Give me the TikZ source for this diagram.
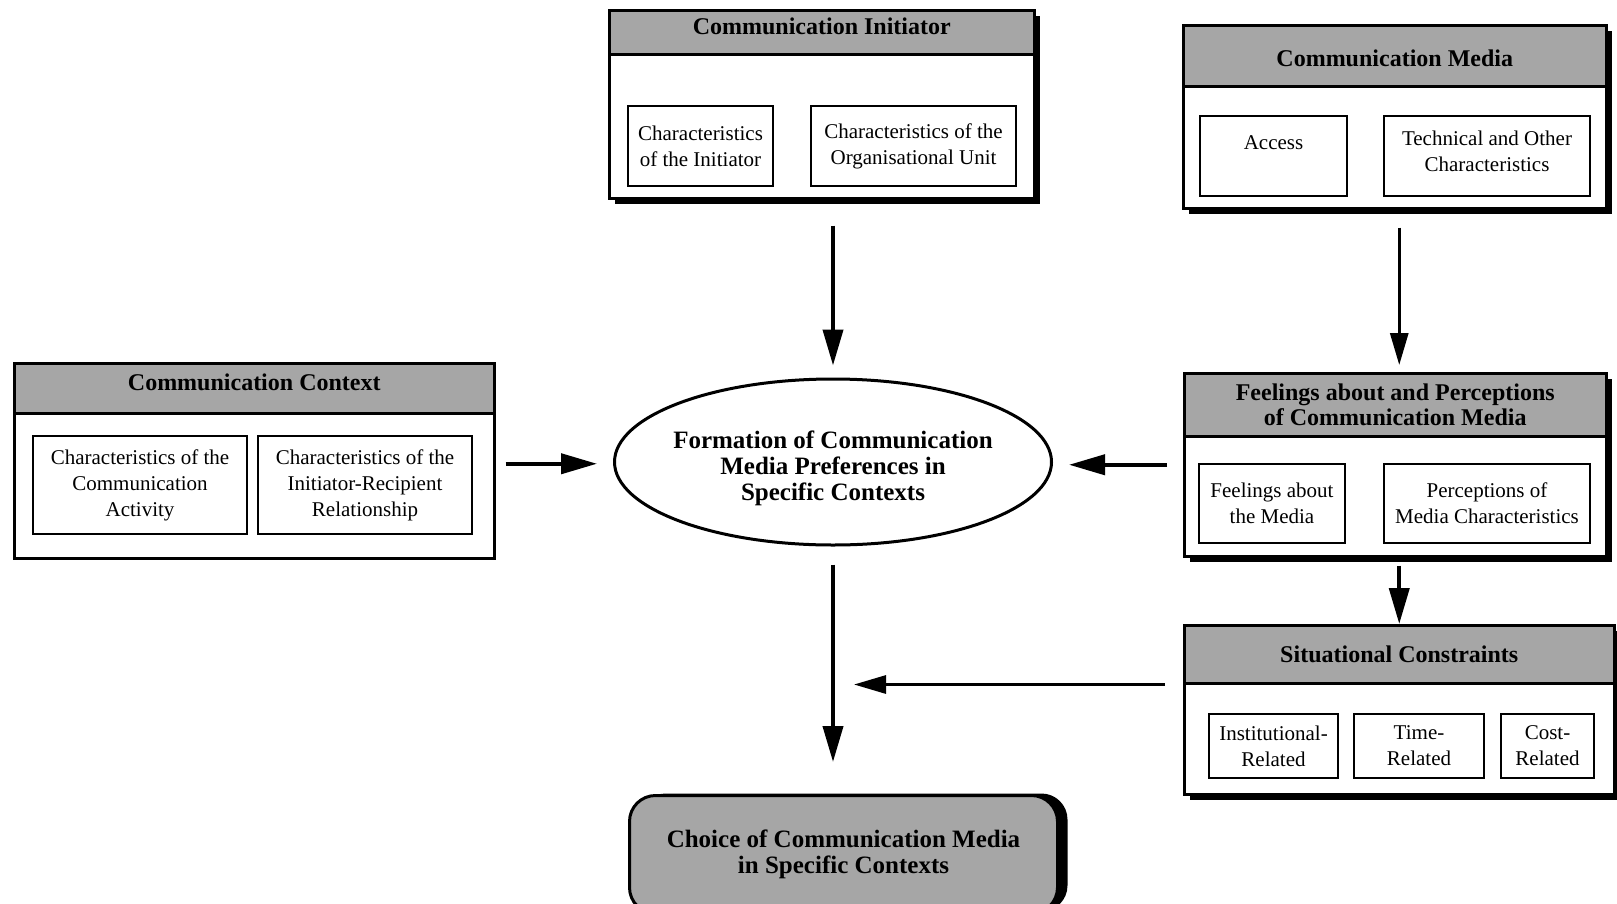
\documentclass[tikz,border=0pt]{standalone}
\usepackage{fontspec}
\setmainfont{Liberation Serif}
\usetikzlibrary{arrows.meta,shapes.geometric,shadows}
\newcommand\innerfs{\fontsize{21}{26}\selectfont}
\newcommand\headfs{\fontsize{24}{25}\selectfont\bfseries}
\newcommand\ellfs{\fontsize{25}{26}\selectfont\bfseries}
\begin{document}
\begin{tikzpicture}[x=1pt,y=-1pt,
  outerbox/.style={draw, line width=2.5pt, fill=white, anchor=north west, inner sep=0pt},
  shadowed/.style={drop shadow={shadow xshift=6pt,shadow yshift=-6pt,opacity=1,fill=black}},
  headbox/.style={draw, line width=2.5pt, fill=gray!70, anchor=north west, inner sep=0pt, align=center, font=\headfs},
  innerbox/.style={draw, line width=2pt, fill=white, anchor=north west, inner sep=0pt, align=center, font=\innerfs},
  thickarr/.style={line width=4pt, -{Triangle[length=36pt,width=20pt]}},
  thinarr/.style={line width=3pt, -{Triangle[length=32pt,width=18pt]}}
]
\useasboundingbox (0,0) rectangle (1617,903);
\fill[white] (0,0) rectangle (1617,903);
\begin{scope}
\clip (0,0) rectangle (1617,903);

% Communication Initiator
\node[outerbox, shadowed, minimum width=425pt, minimum height=188pt] (init) at (608,9) {};
\node[headbox, minimum width=425pt, minimum height=44pt, text depth=12pt] (inithead) at (608,9) {Communication Initiator};
\node[innerbox, minimum width=145pt, minimum height=80pt] (ci1) at (627,105) {Characteristics\\of the Initiator};
\node[innerbox, minimum width=205pt, minimum height=80pt] (ci2) at (810,105) {Characteristics of the\\Organisational Unit};

% Communication Media
\node[outerbox, shadowed, minimum width=423pt, minimum height=183pt] (media) at (1182,24) {};
\node[headbox, minimum width=423pt, minimum height=61pt, text height=22pt] (mediahead) at (1182,24) {Communication Media};
\node[innerbox, minimum width=147pt, minimum height=80pt] (m1) at (1199,115) {Access\\\mbox{}};
\node[innerbox, minimum width=206pt, minimum height=80pt, text depth=10pt] (m2) at (1383,115) {Technical and Other\\Characteristics};

% Communication Context
\node[outerbox, minimum width=480pt, minimum height=195pt] (ctx) at (13,362) {};
\node[headbox, minimum width=480pt, minimum height=50pt, text depth=12pt] (ctxhead) at (13,362) {Communication Context};
\node[innerbox, minimum width=214pt, minimum height=98pt] (c1) at (32,435) {Characteristics of the\\Communication\\Activity};
\node[innerbox, minimum width=214pt, minimum height=98pt] (c2) at (257,435) {Characteristics of the\\Initiator-Recipient\\Relationship};

% Feelings
\node[outerbox, shadowed, minimum width=422pt, minimum height=183pt] (feel) at (1183,372) {};
\node[headbox, minimum width=422pt, minimum height=63pt] (feelhead) at (1183,372) {Feelings about and Perceptions\\of Communication Media};
\node[innerbox, minimum width=146pt, minimum height=79pt] (f1) at (1198,463) {Feelings about\\the Media};
\node[innerbox, minimum width=206pt, minimum height=79pt] (f2) at (1383,463) {Perceptions of\\Media Characteristics};

% Situational Constraints
\node[outerbox, shadowed, minimum width=430pt, minimum height=169pt] (sit) at (1183,624) {};
\node[headbox, minimum width=430pt, minimum height=58pt] (sithead) at (1183,624) {Situational Constraints};
\node[innerbox, minimum width=129pt, minimum height=64pt] (s1) at (1208,713) {Institutional-\\Related};
\node[innerbox, minimum width=130pt, minimum height=64pt] (s2) at (1353,713) {Time-\\Related};
\node[innerbox, minimum width=93pt, minimum height=64pt] (s3) at (1500,713) {Cost-\\Related};

% Ellipse
\node[draw, ellipse, line width=3pt, minimum width=437pt, minimum height=166pt, inner sep=0pt] (ell) at (833,462) {};
\node[align=center, font=\ellfs, inner sep=0pt] (elltext) at ([yshift=-6pt]ell.center) {Formation of Communication\\Media Preferences in\\Specific Contexts};

% Choice
\node[draw, line width=3pt, rounded corners=26pt, fill=gray!70, anchor=north west, minimum width=428pt, minimum height=118pt, inner sep=0pt, align=center, font=\ellfs,
  drop shadow={shadow xshift=10pt,shadow yshift=2pt,opacity=1,fill=black}] (choice) at (628,794) {Choice of Communication Media\\in Specific Contexts};

% Connectors
\coordinate (sitjoin) at (ell.south |- sithead.south);
\coordinate (ctxout) at ([yshift=-3pt]ctx.east);
\draw[thickarr, shorten <=26pt, shorten >=12pt] (ell.north |- init.south) -- (ell.north);
\draw[thinarr, shorten <=18pt, shorten >=7pt] (sit.north |- media.south) -- (sit.north |- feel.north);
\draw[thickarr, shorten <=10pt, shorten >=16pt] (ctxout) -- (ell.west |- ctxout);
\draw[thickarr, shorten <=16pt, shorten >=16pt] (feel.west) -- (ell.east |- feel.west);
\draw[thickarr, shorten <=8pt] (sit.north |- feel.south) -- (sit.north);
\draw[thinarr, shorten <=18pt, shorten >=21pt] (sit.west |- sithead.south) -- (sitjoin);
\draw[thickarr, shorten <=18pt, shorten >=32pt] (ell.south) -- (ell.south |- choice.north);
\end{scope}
\end{tikzpicture}
\end{document}
